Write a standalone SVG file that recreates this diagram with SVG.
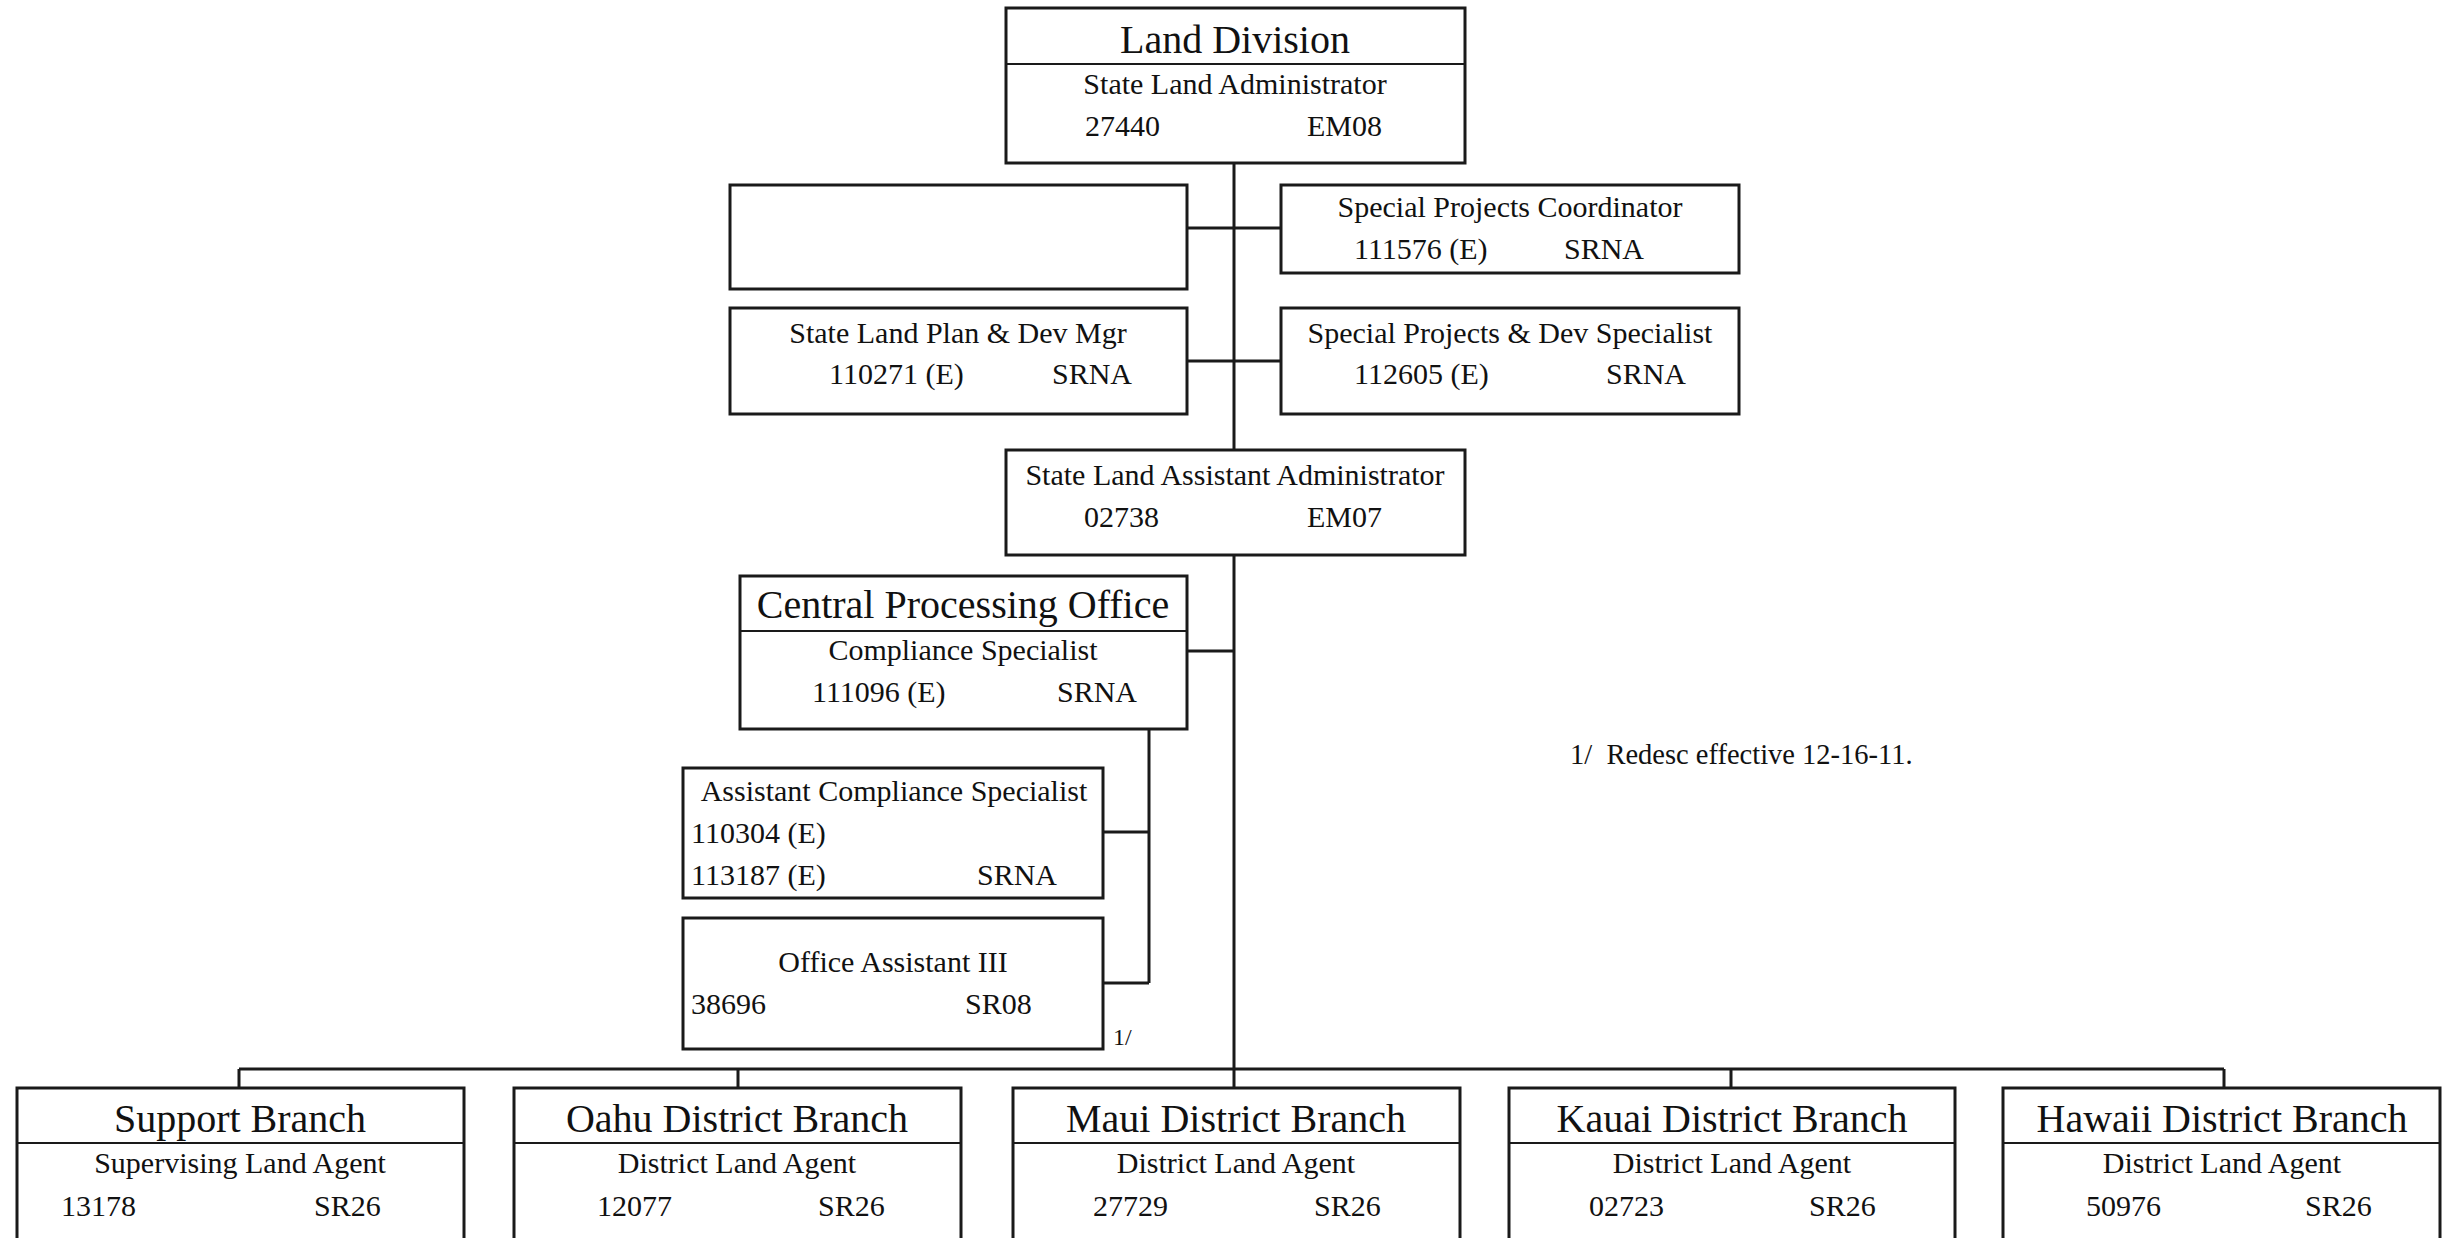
<svg xmlns="http://www.w3.org/2000/svg" width="2452" height="1238" viewBox="0 0 2452 1238">
<style>
.box{fill:#fff;stroke:#1a1a1a;stroke-width:3}
.div{stroke:#1a1a1a;stroke-width:2}
.con{stroke:#1a1a1a;stroke-width:3;fill:none}
text{font-family:"Liberation Serif","Times New Roman",serif;fill:#111}
.t{font-size:40px;text-anchor:middle}
.s{font-size:30px;text-anchor:middle}
.n{font-size:30px}
.f{font-size:28.5px}
.sm{font-size:24px}
</style>
<rect width="2452" height="1238" fill="#fff"/>
<g id="connectors">
<path class="con" d="M1234 163V449M1234 555V1069M1187 228H1281M1187 361H1281M1187 651H1234M1149 729V983M1103 832H1149M1103 983H1149M239 1069H2224M239 1069V1088M738 1069V1088M1234 1069V1088M1731 1069V1088M2224 1069V1088"/>
</g>
<g id="land-division">
<rect class="box" x="1006" y="8" width="459" height="155"/>
<line class="div" x1="1006" y1="64" x2="1465" y2="64"/>
<text class="t" x="1235" y="53">Land Division</text>
<text class="s" x="1235" y="94">State Land Administrator</text>
<text class="n" x="1085" y="136">27440</text>
<text class="n" x="1307" y="136">EM08</text>
</g>
<g id="empty-box">
<rect class="box" x="730" y="185" width="457" height="104"/>
</g>
<g id="special-projects-coordinator">
<rect class="box" x="1281" y="185" width="458" height="88"/>
<text class="s" x="1510" y="217">Special Projects Coordinator</text>
<text class="n" x="1354" y="259">111576 (E)</text>
<text class="n" x="1564" y="259">SRNA</text>
</g>
<g id="state-land-plan">
<rect class="box" x="730" y="308" width="457" height="106"/>
<text class="s" x="958" y="343">State Land Plan &amp; Dev Mgr</text>
<text class="n" x="829" y="384">110271 (E)</text>
<text class="n" x="1052" y="384">SRNA</text>
</g>
<g id="special-projects-dev">
<rect class="box" x="1281" y="308" width="458" height="106"/>
<text class="s" x="1510" y="343">Special Projects &amp; Dev Specialist</text>
<text class="n" x="1354" y="384">112605 (E)</text>
<text class="n" x="1606" y="384">SRNA</text>
</g>
<g id="assistant-administrator">
<rect class="box" x="1006" y="450" width="459" height="105"/>
<text class="s" x="1235" y="485">State Land Assistant Administrator</text>
<text class="n" x="1084" y="527">02738</text>
<text class="n" x="1307" y="527">EM07</text>
</g>
<g id="central-processing">
<rect class="box" x="740" y="576" width="447" height="153"/>
<line class="div" x1="740" y1="631" x2="1187" y2="631"/>
<text class="t" x="963" y="618">Central Processing Office</text>
<text class="s" x="963" y="660">Compliance Specialist</text>
<text class="n" x="812" y="702">111096 (E)</text>
<text class="n" x="1057" y="702">SRNA</text>
</g>
<g id="assistant-compliance">
<rect class="box" x="683" y="768" width="420" height="130"/>
<text class="s" x="894" y="801">Assistant Compliance Specialist</text>
<text class="n" x="691" y="843">110304 (E)</text>
<text class="n" x="691" y="885">113187 (E)</text>
<text class="n" x="977" y="885">SRNA</text>
</g>
<g id="office-assistant">
<rect class="box" x="683" y="918" width="420" height="131"/>
<text class="s" x="893" y="972">Office Assistant III</text>
<text class="n" x="691" y="1014">38696</text>
<text class="n" x="965" y="1014">SR08</text>
<text class="sm" x="1113" y="1045">1/</text>
</g>
<g id="support-branch">
<rect class="box" x="17" y="1088" width="447" height="200"/>
<line class="div" x1="17" y1="1143" x2="464" y2="1143"/>
<text class="t" x="240" y="1132">Support Branch</text>
<text class="s" x="240" y="1173">Supervising Land Agent</text>
<text class="n" x="61" y="1216">13178</text>
<text class="n" x="314" y="1216">SR26</text>
</g>
<g id="oahu-branch">
<rect class="box" x="514" y="1088" width="447" height="200"/>
<line class="div" x1="514" y1="1143" x2="961" y2="1143"/>
<text class="t" x="737" y="1132">Oahu District Branch</text>
<text class="s" x="737" y="1173">District Land Agent</text>
<text class="n" x="597" y="1216">12077</text>
<text class="n" x="818" y="1216">SR26</text>
</g>
<g id="maui-branch">
<rect class="box" x="1013" y="1088" width="447" height="200"/>
<line class="div" x1="1013" y1="1143" x2="1460" y2="1143"/>
<text class="t" x="1236" y="1132">Maui District Branch</text>
<text class="s" x="1236" y="1173">District Land Agent</text>
<text class="n" x="1093" y="1216">27729</text>
<text class="n" x="1314" y="1216">SR26</text>
</g>
<g id="kauai-branch">
<rect class="box" x="1509" y="1088" width="446" height="200"/>
<line class="div" x1="1509" y1="1143" x2="1955" y2="1143"/>
<text class="t" x="1732" y="1132">Kauai District Branch</text>
<text class="s" x="1732" y="1173">District Land Agent</text>
<text class="n" x="1589" y="1216">02723</text>
<text class="n" x="1809" y="1216">SR26</text>
</g>
<g id="hawaii-branch">
<rect class="box" x="2003" y="1088" width="437" height="200"/>
<line class="div" x1="2003" y1="1143" x2="2440" y2="1143"/>
<text class="t" x="2222" y="1132">Hawaii District Branch</text>
<text class="s" x="2222" y="1173">District Land Agent</text>
<text class="n" x="2086" y="1216">50976</text>
<text class="n" x="2305" y="1216">SR26</text>
</g>
<g id="footnote">
<text class="f" x="1570" y="764" xml:space="preserve">1/  Redesc effective 12-16-11.</text>
</g>
</svg>
